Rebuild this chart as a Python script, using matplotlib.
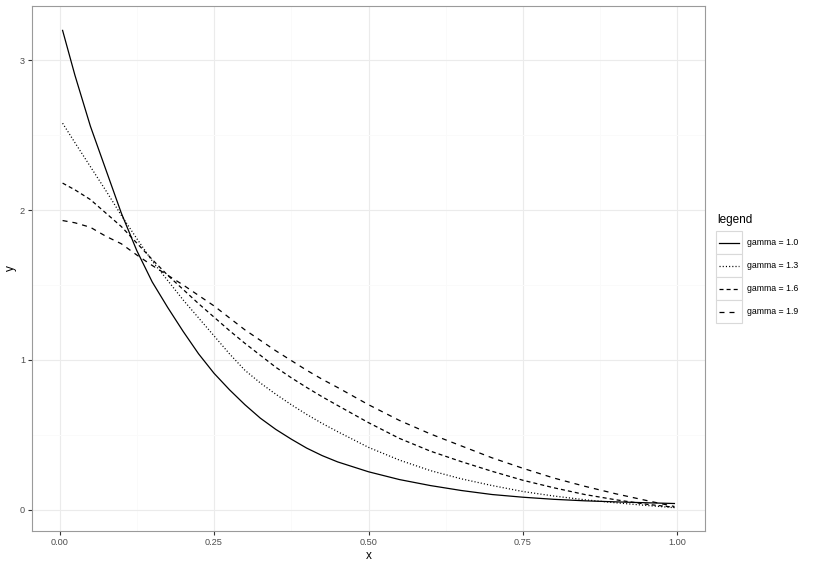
import numpy as np
import matplotlib.pyplot as plt
from matplotlib.patches import Rectangle
from matplotlib.lines import Line2D

plt.rcParams['font.family'] = ['Liberation Sans', 'DejaVu Sans']
plt.rcParams['lines.scale_dashes'] = False

# values
x = [0.005, 0.025, 0.05, 0.075, 0.1, 0.125, 0.15, 0.175, 0.2, 0.225, 0.25, 0.275, 0.3,
     0.325, 0.35, 0.375, 0.4, 0.425, 0.45, 0.5, 0.55, 0.6, 0.65, 0.7, 0.75, 0.8, 0.85,
     0.9, 0.95, 0.995]
y_g10 = [3.20, 2.90, 2.56, 2.27, 1.98, 1.73, 1.52, 1.35, 1.19, 1.04, 0.91, 0.80, 0.70,
         0.61, 0.535, 0.47, 0.41, 0.36, 0.318, 0.252, 0.20, 0.16, 0.127, 0.10, 0.082,
         0.068, 0.058, 0.051, 0.045, 0.04]
y_g13 = [2.58, 2.45, 2.29, 2.13, 1.965, 1.81, 1.66, 1.53, 1.40, 1.28, 1.16, 1.04, 0.93,
         0.845, 0.77, 0.70, 0.635, 0.575, 0.52, 0.415, 0.33, 0.26, 0.205, 0.16, 0.12,
         0.09, 0.065, 0.045, 0.027, 0.012]
y_g16 = [2.18, 2.135, 2.07, 1.98, 1.89, 1.78, 1.67, 1.565, 1.47, 1.375, 1.285, 1.195, 1.11,
         1.03, 0.95, 0.88, 0.815, 0.753, 0.695, 0.58, 0.475, 0.39, 0.32, 0.255, 0.195,
         0.145, 0.10, 0.065, 0.035, 0.015]
y_g19 = [1.93, 1.915, 1.885, 1.825, 1.775, 1.70, 1.63, 1.565, 1.50, 1.43, 1.36, 1.28, 1.20,
         1.13, 1.06, 0.995, 0.93, 0.87, 0.815, 0.70, 0.595, 0.505, 0.425, 0.345, 0.275,
         0.21, 0.155, 0.105, 0.06, 0.02]

labels = ["gamma = 1.0", "gamma = 1.3", "gamma = 1.6", "gamma = 1.9"]
series = [y_g10, y_g13, y_g16, y_g19]
styles = ['-', (0, (0.8, 1.5)), (0, (2.9, 2.2)), (0, (3.6, 3.6))]

xticks = [0.0, 0.25, 0.5, 0.75, 1.0]
xticklabels = ["0.00", "0.25", "0.50", "0.75", "1.00"]
yticks = [0, 1, 2, 3]

W, H = 819, 566
fig = plt.figure(figsize=(W / 100, H / 100), dpi=100)
ax = fig.add_axes([32 / W, 1 - 531 / H, (705 - 32) / W, (531 - 6) / H])

for yy, ls in zip(series, styles):
    ax.plot(x, yy, color='black', lw=0.9, linestyle=ls)

ax.set_xlim(-0.0445, 1.0445)
ax.set_ylim(-0.1436, 3.363)
ax.set_xticks(xticks)
ax.set_xticklabels(xticklabels)
ax.set_yticks(yticks)
ax.set_xticks([0.125, 0.375, 0.625, 0.875], minor=True)
ax.set_yticks([0.5, 1.5, 2.5], minor=True)
ax.grid(which='major', color='#EBEBEB', lw=0.8)
ax.grid(which='minor', color='#FAFAFA', lw=0.7)
ax.set_axisbelow(True)
ax.tick_params(which='major', length=3, width=0.8, color='#333333',
               labelsize=6.6, labelcolor='#4D4D4D', pad=2)
ax.tick_params(which='minor', length=0)
for s in ax.spines.values():
    s.set_color('#9A9A9A')
    s.set_linewidth(0.8)
ax.set_xlabel("x", fontsize=8.5, labelpad=2)
ax.set_ylabel("y", fontsize=8.5, labelpad=2)

# legend drawn by hand, ggplot style key boxes
lax = fig.add_axes([0, 0, 1, 1])
lax.set_xlim(0, W)
lax.set_ylim(H, 0)
lax.axis('off')
lax.text(717, 220, "legend", fontsize=8.5, va='center', ha='left')
for i, (lab, ls) in enumerate(zip(labels, styles)):
    top = 231 + i * 23
    lax.add_patch(Rectangle((716, top), 26, 23, facecolor='white',
                            edgecolor='#D9D9D9', lw=0.8))
    lax.add_line(Line2D([719, 739], [top + 11.5, top + 11.5], color='black',
                        lw=0.9, linestyle=ls))
    lax.text(747, top + 11.5, lab, fontsize=6.3, va='center', ha='left')

fig.savefig("out.png", dpi=100)
